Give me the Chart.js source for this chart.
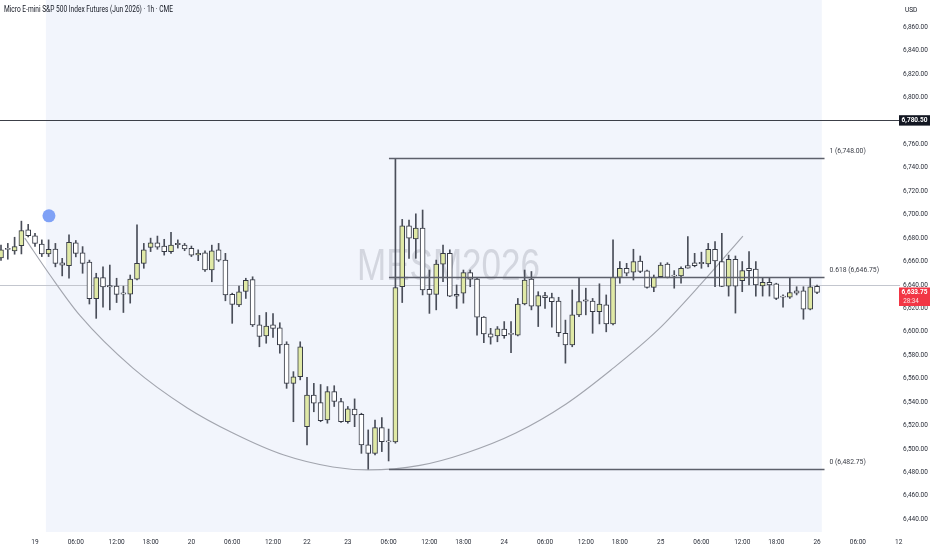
<!DOCTYPE html>
<html>
<head>
<meta charset="utf-8">
<script src="https://cdn.jsdelivr.net/npm/chart.js@4/dist/chart.umd.min.js"></script>
<style>
html,body{margin:0;padding:0;background:#fff;}
#wrap{width:932px;height:550px;position:relative;}
</style>
</head>
<body>
<div id="wrap"><canvas id="c" width="932" height="550"></canvas></div>
<script>
// ---- Data (hourly bars, 18 Mar 19:00 .. 26 Mar 00:00) ----
const opens = [6663,6670.5,6669,6673.5,6687,6682,6675,6666.5,6670.75,6659,6656.5,6676,6667.5,6659.5,6628.25,6646.25,6639.5,6639,6632.5,6632.25,6645,6658.5,
6672,6676,6673.25,6668.5,6674.75,6674,6671.25,6665.75,6667.5,6652.75,6670,6661.25,6632,6623,6634.5,6644.5,6606,6596.5,6606,6603.5,6589.5,6556,6561.75,
6519,6546,6539.5,6524.75,6549,6540.5,6523.25,6534,6529.5,6503.5,6496.25,6518.25,6506.5,6506,6638.5,6690.5,6679.25,6688.5,6636.25,6632,6657.75,6667,6632,
6633,6650.5,6645,6612.5,6598.25,6596.5,6602.25,6598,6597.25,6623.75,6645,6622,6631,6629.25,6626.25,6598.75,6588.75,6614.5,6626.5,6626.25,6617.25,6623,6606.75,
6646.5,6654.25,6651,6660.5,6652,6638,6647,6657.75,6647.75,6647.75,6656.5,6659,6658.5,6658,6670.5,6660,6639,6662,6643.75,6654.25,6653.5,6639.25,6642.25,
6641,6629.75,6629.5,6635,6635,6619.25,6638.75];
const highs = [6674,6675.5,6680.75,6694.5,6691.75,6684,6678.5,6678.5,6675.5,6662.75,6682.75,6678,6672.75,6661.25,6650,6655.5,6657,6645.75,6639,6648.5,6691.25,6675.5,
6680,6681.75,6679,6685,6678.5,6675.5,6673.25,6670,6669.25,6674,6675.5,6667,6633,6639,6645.75,6647,6614,6616.5,6615.5,6607.75,6591.5,6566,6591.5,
6561.25,6556,6555,6553.25,6554,6543.25,6536.25,6542.75,6530.5,6516.25,6524.75,6526.75,6517,6748,6696,6695.5,6700.75,6704,6652.75,6661.25,6674,6670,6640,
6652.75,6652.75,6646.5,6613,6603,6604.5,6608.75,6608.75,6628.5,6652.75,6651.5,6634.25,6633.75,6633,6629.5,6610,6635.75,6645.75,6637.25,6628.5,6641,6631.5,6678.5,
6660,6658.5,6670.5,6664.75,6652.75,6648.5,6659,6659,6652.25,6655.5,6681.25,6667,6668,6675.5,6677,6684,6665.5,6664.75,6660,6668.5,6660,6646.5,6646.5,
6641.5,6631.5,6645.75,6638.5,6638.5,6645.75,6640];
const lows = [6661,6662,6666.25,6666.5,6681,6673,6664.25,6664.25,6655.5,6647.75,6645.75,6664,6650,6623.75,6611.5,6621,6618.75,6625,6616.5,6624.5,6644.25,6654.25,
6668.5,6670.5,6665.5,6667,6671.5,6669.25,6664.25,6660.75,6651.5,6642.75,6660,6626.5,6607.25,6621.5,6628.5,6604.5,6587.25,6590.25,6595.25,6581.75,6551.75,6523.25,6559,
6503.5,6531.75,6523.25,6522,6536.25,6522.75,6522,6519,6496.25,6482.75,6495,6497.75,6489.75,6505,6625,6662.75,6662.75,6631.5,6615.75,6618.75,6642.75,6630,6620,
6624.5,6638.5,6597.25,6590.75,6589.5,6591.5,6594.5,6582.25,6596.5,6623,6618.75,6604.5,6620,6604,6596,6573.25,6587.25,6613,6614.5,6598.75,6606.75,6600,6606,
6641.5,6647.75,6644.25,6650.5,6637.25,6634.25,6646.5,6646,6637.25,6641.5,6654.25,6655.5,6654.25,6655.5,6638.5,6638.5,6630.5,6616,6634.25,6640,6630.5,6630.5,6630.5,
6627.5,6621,6628.5,6631.5,6610.75,6618.75,6632.5];
const closes = [6670,6670.25,6672.75,6686.5,6682,6675.5,6666.5,6670.5,6658.5,6657,6676.5,6667,6658.5,6628.25,6646.25,6638.25,6638.25,6632,6632.25,6645,6658.5,6670,
6676,6672.25,6668.5,6674,6674.5,6670.75,6665.5,6667,6652.75,6669.25,6661.25,6631.5,6623.5,6634.25,6644,6606,6596,6605,6603,6588.75,6556,6561.5,6587.25,
6546,6539,6524.25,6549,6540.5,6523.25,6534.25,6529,6503.5,6496.25,6518.25,6506.25,6506,6637.75,6690.5,6680,6688.5,6635.75,6632,6657.75,6667,6630.5,6630.5,
6650.5,6645,6612.5,6598.25,6595.5,6602.5,6596.75,6597.75,6623.75,6644.25,6622,6631,6629.25,6625.75,6599.25,6588.75,6614.5,6625.75,6626.25,6617.25,6623.75,6606.75,6646.5,
6654.25,6650,6660,6651.5,6638,6646.5,6657,6646.5,6647.5,6654.25,6654.25,6656.5,6658.25,6670.5,6660.5,6638.75,6662,6639,6652.25,6652.25,6640,6642.25,6640,
6628.5,6629.5,6633.5,6633,6619.25,6638.5,6633.75];

// time axis ticks (bar index -> label)
const xTickBars   = [5,11,17,22,28,34,40,45,51,57,63,68,74,80,86,91,97,103,109,114,120,126,132];
const xTickLabels = ["19","06:00","12:00","18:00","20","06:00","12:00","22","23","06:00","12:00","18:00","24","06:00","12:00","18:00","25","06:00","12:00","18:00","26","06:00","12"];
// price axis ticks
const yTicks = [6440,6460,6480,6500,6520,6540,6560,6580,6600,6620,6640,6660,6680,6700,6720,6740,6760,6780,6800,6820,6840,6860];

// drawings
const arcBars   = [3.5,7.2,11.6,19.4,27.4,34.1,41.5,48.8,54,61.6,68.4,75.7,83.1,89.7,96.6,103.2,109.1];
const arcPrices = [6680,6648.5,6614,6569,6535,6513.6,6495,6484.6,6482.1,6486,6496.6,6513.6,6538.4,6567.4,6601.6,6642.6,6681.8];
const dotBar = 7.05, dotPrice = 6699;
const hLinePrice = 6780.5;
const refLinePrice = 6640;
const fibRatios = ["1","0.618","0"];
const fibPrices = [6748.00,6646.75,6482.75];
const fibStartBar = 57.05, fibEndBar = 121.1;
const rangeStartBar = 6.6, rangeEndBar = 120.7;
const lastPrice = 6633.75, countdown = "28:34";
const title = "Micro E-mini S&P 500 Index Futures (Jun 2026) \u00b7 1h \u00b7 CME";
const watermark = "MESM2026";

const BULL = '#e0e9a6', BEAR = '#ffffff', EDGE = '#363a45', WICK = '#4a4e59';
const FONT = 'Roboto, "Liberation Sans", sans-serif';
const fmt = v => v.toLocaleString('en-US',{minimumFractionDigits:2, maximumFractionDigits:2});

const wickData = lows.map((l,i)=>({x:i, y:[l, highs[i]]}));
const bodyData = opens.map((o,i)=>({x:i, y:[o, closes[i]]}));
const bodyColors = opens.map((o,i)=> closes[i] >= o ? BULL : BEAR);
const arcData = arcBars.map((b,i)=>({x:b, y:arcPrices[i]}));

function condensedText(ctx, text, x, y, font, width){
  ctx.save();
  ctx.font = font;
  const w = ctx.measureText(text).width;
  ctx.translate(x, y);
  ctx.scale(width / w, 1);
  ctx.fillText(text, 0, 0);
  ctx.restore();
}

const overlay = {
  id:'overlay',
  beforeDraw(chart){
    const {ctx, chartArea:a, scales:{x}} = chart;
    ctx.save();
    ctx.fillStyle = '#ffffff';
    ctx.fillRect(0,0,chart.width,chart.height);
    const x0 = x.getPixelForValue(rangeStartBar), x1 = x.getPixelForValue(rangeEndBar);
    ctx.fillStyle = '#f2f5fc';
    ctx.fillRect(x0, a.top, x1-x0, a.bottom-a.top);
    ctx.restore();
  },
  beforeDatasetsDraw(chart){
    const {ctx, chartArea:a, scales:{x,y}} = chart;
    ctx.save();
    ctx.fillStyle = 'rgba(190,194,204,0.6)';
    ctx.textAlign = 'left'; ctx.textBaseline = 'middle';
    condensedText(ctx, watermark, 357, y.getPixelForValue(6655), '44px "Liberation Sans", sans-serif', 183);
    // reference thin line
    ctx.strokeStyle = '#c3c6ce'; ctx.lineWidth = 1;
    const yr = Math.round(y.getPixelForValue(refLinePrice)) + 0.5;
    ctx.beginPath(); ctx.moveTo(a.left, yr); ctx.lineTo(a.right, yr); ctx.stroke();
    ctx.restore();
  },
  afterDatasetsDraw(chart){
    const {ctx, chartArea:a, scales:{x,y}} = chart;
    ctx.save();
    ctx.lineWidth = 1;
    ctx.strokeStyle = '#3c3f48';
    const yh = Math.round(y.getPixelForValue(hLinePrice)) + 0.5;
    ctx.beginPath(); ctx.moveTo(a.left, yh); ctx.lineTo(a.right, yh); ctx.stroke();
    ctx.strokeStyle = '#5d606b';
    ctx.lineWidth = 1.3;
    const fx0 = x.getPixelForValue(fibStartBar), fx1 = x.getPixelForValue(fibEndBar);
    ctx.font = '6.8px ' + FONT;
    ctx.fillStyle = '#3a3d46';
    ctx.textBaseline = 'middle'; ctx.textAlign = 'left';
    fibPrices.forEach((p,i)=>{
      const yy = Math.round(y.getPixelForValue(p)) + 0.5;
      ctx.beginPath(); ctx.moveTo(fx0, yy); ctx.lineTo(fx1, yy); ctx.stroke();
      ctx.fillText(fibRatios[i] + ' (' + fmt(p) + ')', fx1 + 5, yy - 7.5);
    });
    ctx.restore();
  },
  afterDraw(chart){
    const {ctx, chartArea:a, scales:{y}} = chart;
    ctx.save();
    ctx.textBaseline = 'middle';
    // title
    ctx.fillStyle = '#131722'; ctx.textAlign = 'left';
    condensedText(ctx, title, 4, 10, '8.2px ' + FONT, 169);
    // USD
    ctx.fillStyle = '#ffffff'; ctx.fillRect(901, 3, 28, 14);
    ctx.font = '6.5px ' + FONT; ctx.fillStyle = '#131722';
    ctx.fillText('USD', 905, 10.5);
    // black label
    const yh = y.getPixelForValue(hLinePrice);
    ctx.fillStyle = '#131722'; ctx.fillRect(899, yh-5.2, 31, 10.4);
    ctx.fillStyle = '#ffffff'; ctx.font = 'bold 6.5px ' + FONT; ctx.textAlign = 'center';
    ctx.fillText(fmt(hLinePrice), 914.5, yh+0.3);
    // red last price label
    const yl = y.getPixelForValue(lastPrice);
    ctx.fillStyle = '#f23645'; ctx.fillRect(899, yl-4.8, 31, 18.5);
    ctx.fillStyle = '#ffffff'; ctx.font = 'bold 6.5px ' + FONT;
    ctx.fillText(fmt(lastPrice), 914.5, yl);
    ctx.font = '6.3px ' + FONT; ctx.fillStyle = 'rgba(255,255,255,0.85)';
    ctx.fillText(countdown, 911, yl+8.7);
    ctx.restore();
  }
};

new Chart(document.getElementById('c'), {
  type:'bar',
  data:{
    datasets:[
      {type:'scatter', data:[{x:dotBar, y:dotPrice}], pointRadius:6.5, pointHoverRadius:6.5, backgroundColor:'#7fa1f6', borderWidth:0, order:0},
      {type:'bar', data:bodyData, backgroundColor:bodyColors, borderColor:EDGE, borderWidth:1, borderSkipped:false, barThickness:5, minBarLength:1.2, grouped:false, order:1},
      {type:'bar', data:wickData, backgroundColor:WICK, borderWidth:0, barThickness:1, grouped:false, order:2},
      {type:'line', data:arcData, borderColor:'#a2a5ae', borderWidth:1.1, pointRadius:0, cubicInterpolationMode:'monotone', fill:false, order:3}
    ]
  },
  options:{
    responsive:false, animation:false, devicePixelRatio:1,
    layout:{padding:0, autoPadding:false},
    plugins:{legend:{display:false}, tooltip:{enabled:false}},
    scales:{
      x:{type:'linear', min:-0.147, max:132.2, offset:false,
         grid:{display:false, drawTicks:false}, border:{display:false},
         afterBuildTicks:s=>{ s.ticks = xTickBars.map(v=>({value:v})); },
         afterFit:s=>{ s.height = 18; s.paddingLeft = 0; s.paddingRight = 0; },
         ticks:{autoSkip:false, maxRotation:0, padding:6, color:'#2a2e39', font:{size:6.5, family:FONT},
                callback:v=>{ const k = xTickBars.indexOf(v); return k>=0 ? xTickLabels[k] : ''; }}},
      y:{type:'linear', position:'right', min:6429.1, max:6883.3,
         grid:{display:false, drawTicks:false}, border:{display:false},
         afterBuildTicks:s=>{ s.ticks = yTicks.map(v=>({value:v})); },
         afterFit:s=>{ s.width = 32; s.paddingTop = 0; s.paddingBottom = 0; },
         ticks:{padding:3, color:'#2a2e39', font:{size:6.5, family:FONT}, callback:v=>fmt(v)}}
    }
  },
  plugins:[overlay]
});
</script>
</body>
</html>
